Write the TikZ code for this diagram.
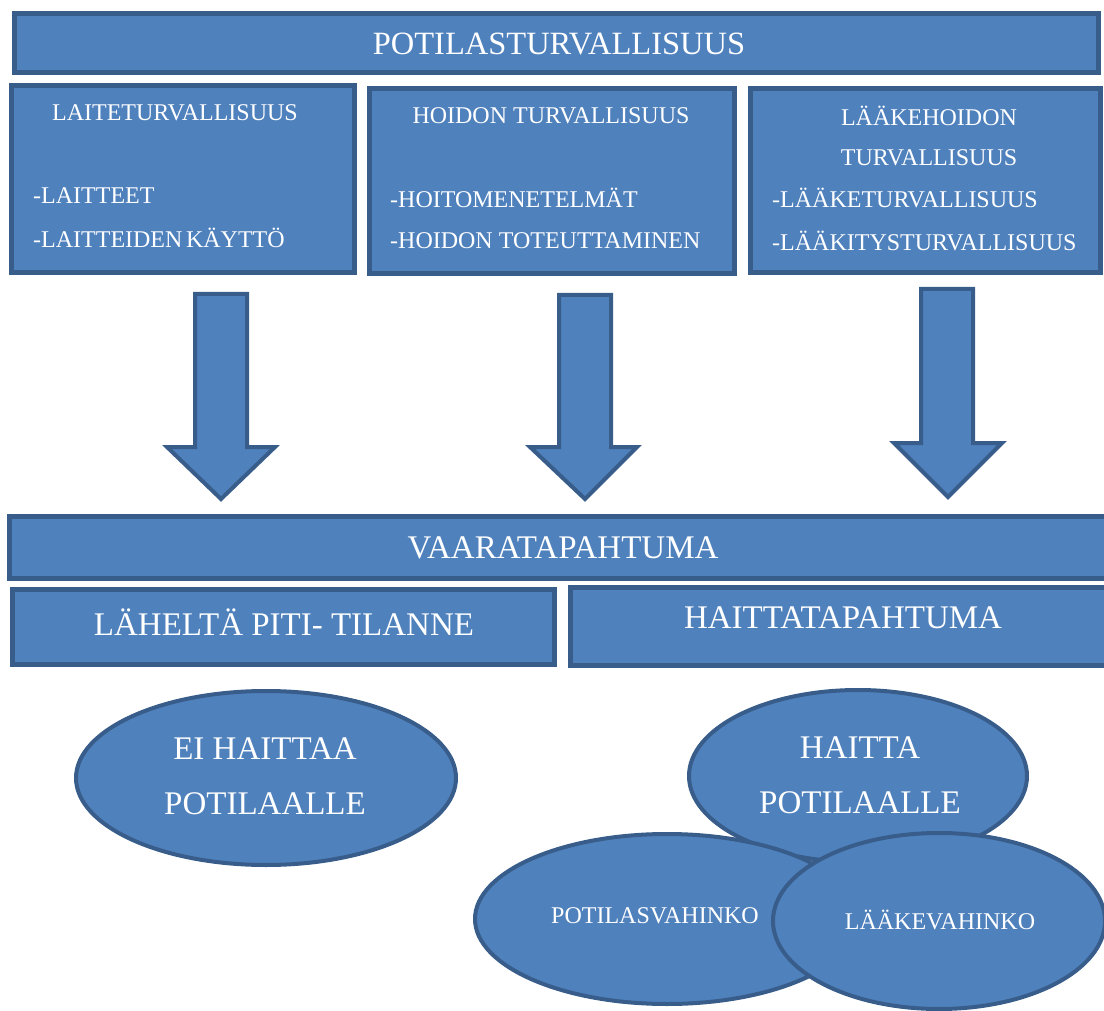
\documentclass[tikz,border=0pt]{standalone}
\usepackage{fontspec}
\setmainfont{Liberation Serif}
\usetikzlibrary{shapes.geometric}
\definecolor{fillblue}{HTML}{4F81BD}
\definecolor{edgeblue}{HTML}{385D8A}
\tikzset{
  box/.style={draw=edgeblue, fill=fillblue, line width=4.5pt, rectangle, inner sep=0pt, outer sep=0pt},
  oval/.style={draw=edgeblue, fill=fillblue, line width=4pt, ellipse, inner sep=0pt, outer sep=0pt},
  blockarrow/.style={draw=edgeblue, fill=fillblue, line width=4pt, line join=miter},
  bigtxt/.style={text=white, inner sep=0pt, font=\fontsize{33}{39}\selectfont},
  smalltxt/.style={text=white, inner sep=0pt, font=\fontsize{24}{29}\selectfont},
}
\begin{document}
\begin{tikzpicture}[x=1pt,y=-1pt]
\useasboundingbox (0,0) rectangle (1104,1011);
% top row
\node[box, minimum width=1084, minimum height=59] (top) at (556.5,43) {};
\node[bigtxt, font=\fontsize{32.5}{39}\selectfont] (toptxt) at (559,44) {POTILASTURVALLISUUS};
\node[box, minimum width=343, minimum height=187] (b1) at (183,179) {};
\node[box, minimum width=365, minimum height=185] (b2) at (552,181) {};
\node[box, minimum width=350, minimum height=184] (b3) at (925.5,180.5) {};
% box texts
\node[smalltxt] (b1t) at (175,113) {LAITETURVALLISUUS};
\node[smalltxt, anchor=west] (b1a) at (33,196) {-LAITTEET};
\node[smalltxt, anchor=west] (b1b) at (33,238) {-LAITTEIDEN\hspace{0.15em}KÄYTTÖ};
\node[smalltxt] (b2t) at (551,116) {HOIDON TURVALLISUUS};
\node[smalltxt, anchor=west] (b2a) at (390,198) {-HOITOMENETELMÄT};
\node[smalltxt, anchor=west] (b2b) at (390,241) {-HOIDON TOTEUTTAMINEN};
\node[smalltxt] (b3t) at (929,116) {LÄÄKEHOIDON};
\node[smalltxt] (b3u) at (929,158) {TURVALLISUUS};
\node[smalltxt, anchor=west] (b3a) at (772,198) {-LÄÄKETURVALLISUUS};
\node[smalltxt, anchor=west] (b3b) at (772,241) {-LÄÄKITYSTURVALLISUUS};
% block arrows
\draw[blockarrow] (195,294) -- (247,294) -- (247,447) -- (275,447) -- (221,499) -- (167,447) -- (195,447) -- cycle;
\draw[blockarrow] (559,295) -- (611,295) -- (611,447) -- (637,447) -- (585,499) -- (530,447) -- (559,447) -- cycle;
\draw[blockarrow] (921,289) -- (973,289) -- (973,443) -- (1002,443) -- (948,497) -- (894,443) -- (921,443) -- cycle;
% middle row
\node[box, minimum width=1102.5, minimum height=62] (vaara) at (560.75,547.5) {};
\node[bigtxt] (vaaratxt) at (563,548) {VAARATAPAHTUMA};
\node[box, minimum width=542, minimum height=75] (lahelta) at (283.5,627) {};
\node[bigtxt] (laheltatxt) at (284,622) {LÄHELTÄ PITI- TILANNE};
\node[box, minimum width=541.5, minimum height=78] (haittat) at (841.25,626.5) {};
\node[bigtxt] (haittattxt) at (843,618) {HAITTATAPAHTUMA};
% ellipses
\node[oval, minimum width=380, minimum height=174] (ei) at (266,778) {};
\node[bigtxt] (ei1) at (265,749) {EI HAITTAA};
\node[bigtxt] (ei2) at (265,804) {POTILAALLE};
\node[oval, minimum width=338, minimum height=172] (haitta) at (858,776) {};
\node[bigtxt] (h1) at (860,748) {HAITTA};
\node[bigtxt] (h2) at (860,803) {POTILAALLE};
\node[oval, minimum width=384, minimum height=170] (pv) at (667,919) {};
\node[smalltxt] (pvt) at (655,916) {POTILASVAHINKO};
\node[oval, minimum width=332, minimum height=176] (lv) at (939,921) {};
\node[smalltxt] (lvt) at (940,920) {LÄÄKEVAHINKO};
\end{tikzpicture}
\end{document}
